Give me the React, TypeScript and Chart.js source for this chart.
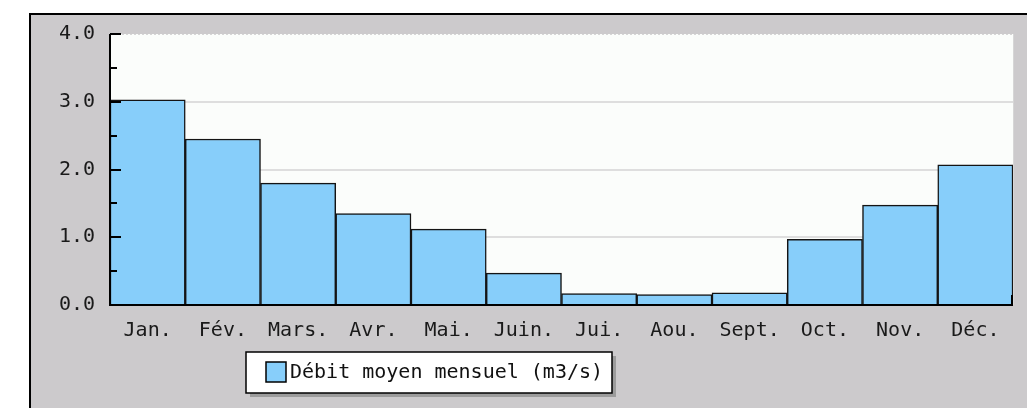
import React, { useEffect, useRef } from 'react';
import { Chart, registerables } from 'chart.js';

Chart.register(...registerables);

const months = ['Jan.', 'Fév.', 'Mars.', 'Avr.', 'Mai.', 'Juin.', 'Jui.', 'Aou.', 'Sept.', 'Oct.', 'Nov.', 'Déc.'];
const debit = [3.03, 2.45, 1.8, 1.35, 1.12, 0.47, 0.17, 0.155, 0.18, 0.97, 1.475, 2.07];
const yTickLabels = ['0.0', '1.0', '2.0', '3.0', '4.0'];
const seriesLabel = 'Débit moyen mensuel (m3/s)';

const W = 1027;
const H = 408;
const FONT = '"DejaVu Sans Mono", monospace';
const BAR_COLOR = '#87cefa';

const decor = {
  id: 'decor',
  beforeDraw(chart: any) {
    const ctx = chart.ctx;
    const { left, top, right, bottom } = chart.chartArea;
    ctx.save();
    ctx.fillStyle = '#ffffff';
    ctx.fillRect(0, 0, W, H);
    ctx.fillStyle = '#cccacc';
    ctx.fillRect(30, 14, W - 30, H - 14);
    ctx.fillStyle = '#000000';
    ctx.fillRect(29, 13, W - 29, 2);
    ctx.fillRect(29, 13, 2, H - 13);
    ctx.fillStyle = '#fbfdfb';
    ctx.fillRect(left, top, right - left, bottom - top);
    ctx.strokeStyle = '#d6d6d6';
    ctx.lineWidth = 1;
    ctx.beginPath();
    ctx.moveTo(right + 0.5, top);
    ctx.lineTo(right + 0.5, bottom);
    ctx.stroke();
    ctx.setLineDash([2, 2]);
    ctx.beginPath();
    ctx.moveTo(left, top + 0.5);
    ctx.lineTo(right, top + 0.5);
    ctx.stroke();
    ctx.restore();
  },
  afterDatasetsDraw(chart: any) {
    const ctx = chart.ctx;
    const { left, top, right, bottom } = chart.chartArea;
    const yScale = chart.scales.y;
    ctx.save();
    ctx.fillStyle = '#000000';
    // axes
    ctx.fillRect(left - 1, top, 2, bottom - top + 1);
    ctx.fillRect(left - 1, bottom - 1, right - left + 1, 2);
    // inward y ticks
    for (let v = 0.5; v <= yScale.max + 0.001; v += 0.5) {
      const y = Math.round(yScale.getPixelForValue(v));
      const len = Math.abs(v - Math.round(v)) < 0.01 ? 11 : 7;
      ctx.fillRect(left, y - 1, len, 2);
    }
    // inward x tick at the end
    ctx.fillRect(right - 2, bottom - 10, 2, 10);

    // legend
    const ds = chart.data.datasets[0];
    const bx = 246, by = 352, bw = 366, bh = 41;
    ctx.fillStyle = '#9c9c9c';
    ctx.fillRect(bx + 4, by + 4, bw, bh);
    ctx.fillStyle = '#ffffff';
    ctx.fillRect(bx, by, bw, bh);
    ctx.strokeStyle = '#000000';
    ctx.lineWidth = 1.5;
    ctx.strokeRect(bx, by, bw, bh);
    ctx.fillStyle = ds.backgroundColor;
    ctx.fillRect(266, 362, 20, 20);
    ctx.lineWidth = 1.5;
    ctx.strokeRect(266, 362, 20, 20);
    ctx.fillStyle = '#111111';
    ctx.font = '20px ' + FONT;
    ctx.textBaseline = 'middle';
    ctx.textAlign = 'left';
    ctx.fillText(ds.label, 290, 373);
    ctx.restore();
  },
};

export default function App() {
  const ref = useRef<HTMLCanvasElement | null>(null);

  useEffect(() => {
    if (!ref.current) return;
    const chart = new Chart(ref.current, {
      type: 'bar',
      data: {
        labels: months,
        datasets: [
          {
            label: seriesLabel,
            data: debit,
            backgroundColor: BAR_COLOR,
            borderColor: '#141414',
            borderWidth: 1.5,
            borderSkipped: 'bottom',
            categoryPercentage: 1,
            barPercentage: 1,
          },
        ],
      },
      options: {
        responsive: false,
        animation: false,
        devicePixelRatio: 1,
        layout: { padding: { left: 0, top: 34, right: 14, bottom: 0 } },
        plugins: {
          legend: { display: false },
          tooltip: { enabled: false },
        },
        scales: {
          x: {
            grid: { display: false, drawTicks: false },
            border: { display: false },
            ticks: {
              font: { family: FONT, size: 20 },
              color: '#1a1a1a',
              padding: 14,
              maxRotation: 0,
              autoSkip: false,
            },
            afterFit(scale: any) {
              scale.height = H - 305;
            },
          },
          y: {
            min: 0,
            max: 4,
            grid: {
              color: (c: any) => (c.tick && c.tick.value === 4 ? 'rgba(0,0,0,0)' : '#dedede'),
              lineWidth: 2,
              drawTicks: false,
            },
            border: { display: false },
            ticks: {
              stepSize: 1,
              font: { family: FONT, size: 20 },
              color: '#1a1a1a',
              padding: 15,
              callback: (_v: any, i: number) => yTickLabels[i],
            },
            afterFit(scale: any) {
              scale.width = 110;
            },
          },
        },
      },
      plugins: [decor],
    });
    return () => chart.destroy();
  }, []);

  return (
    <canvas
      ref={ref}
      width={W}
      height={H}
      style={{ position: 'absolute', left: 0, top: 0, width: W, height: H }}
    />
  );
}
